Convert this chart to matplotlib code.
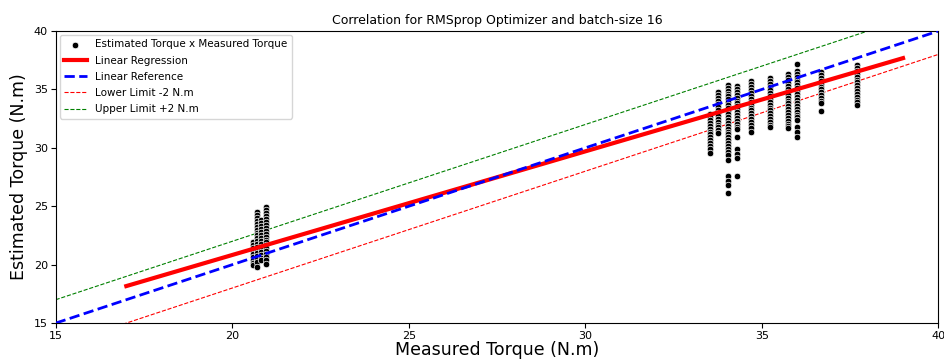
import numpy as np
import matplotlib.pyplot as plt

# measured torque of each group of samples (N.m)
measured_cols = [20.58, 20.69, 20.82, 20.95,
                 33.52, 33.77, 34.04, 34.29, 34.70, 35.22, 35.73, 36.00, 36.67, 37.69]

# estimated torque for each measured value (N.m)
estimated_cols = [
    [21.9, 21.65, 21.4, 21.15, 20.9, 20.65, 20.4, 20.15, 20.0],
    [24.5, 24.25, 24.0, 23.75, 23.5, 23.25, 23.0, 22.75, 22.5, 22.25, 22.0, 21.75,
     21.5, 21.25, 21.0, 20.75, 20.5, 20.25, 19.8],
    [23.8, 23.55, 23.3, 23.05, 22.8, 22.55, 22.3, 22.05, 21.8, 21.55, 21.3, 21.05,
     20.8, 20.6, 20.4],
    [24.9, 24.65, 24.4, 24.15, 23.9, 23.65, 23.4, 23.15, 22.9, 22.65, 22.4, 22.15,
     21.9, 21.65, 21.4, 21.15, 20.9, 20.65, 20.4, 20.1],
    [32.9, 32.65, 32.4, 32.15, 31.9, 31.65, 31.4, 31.15, 30.9, 30.65, 30.4, 30.15,
     29.9, 29.6],
    [34.75, 34.5, 34.25, 34.0, 33.75, 33.5, 33.25, 33.0, 32.75, 32.5, 32.25, 32.0,
     31.75, 31.5, 31.3],
    [35.4, 35.15, 34.9, 34.65, 34.4, 34.15, 33.9, 33.65, 33.4, 33.15, 32.9, 32.65,
     32.4, 32.15, 31.9, 31.65, 31.4, 31.15, 30.9, 30.65, 30.4, 30.15, 29.9, 29.65,
     29.4, 29.0, 27.6, 27.2, 26.8, 26.1],
    [35.3, 35.05, 34.8, 34.55, 34.3, 34.05, 33.8, 33.55, 33.3, 33.05, 32.8, 32.55,
     32.3, 32.05, 31.8, 31.6, 30.95, 29.9, 29.5, 29.1, 27.6],
    [35.7, 35.45, 35.2, 34.95, 34.7, 34.45, 34.2, 33.95, 33.7, 33.45, 33.2, 32.95,
     32.7, 32.45, 32.2, 31.95, 31.7, 31.4],
    [35.95, 35.7, 35.45, 35.2, 34.95, 34.7, 34.45, 34.2, 33.95, 33.7, 33.45, 33.2,
     32.95, 32.7, 32.45, 32.2, 31.95, 31.8],
    [36.3, 36.05, 35.8, 35.55, 35.3, 35.05, 34.8, 34.55, 34.3, 34.05, 33.8, 33.55,
     33.3, 33.05, 32.8, 32.55, 32.3, 32.05, 31.85, 31.7],
    [37.2, 36.6, 36.35, 36.1, 35.85, 35.6, 35.35, 35.1, 34.85, 34.6, 34.35, 34.1,
     33.85, 33.6, 33.35, 33.1, 32.85, 32.6, 32.4, 31.8, 31.4, 30.95],
    [36.5, 36.25, 36.0, 35.75, 35.5, 35.25, 35.0, 34.75, 34.5, 34.25, 34.0, 33.8, 33.15],
    [37.1, 36.85, 36.6, 36.35, 36.1, 35.85, 35.6, 35.35, 35.1, 34.85, 34.6, 34.35,
     34.1, 33.9, 33.7],
]

# regression line
reg_slope = 0.887
reg_intercept = 3.09
reg_range = [17, 39]

ref_range = [15, 40]
tolerance = 2.0

measured = np.concatenate([[x] * len(ys) for x, ys in zip(measured_cols, estimated_cols)])
estimated = np.concatenate(estimated_cols)

fig, ax = plt.subplots(figsize=(9.44, 3.61), dpi=100)
fig.subplots_adjust(left=0.059, right=0.994, top=0.914, bottom=0.105)

ax.scatter(measured, estimated, s=22, c='black', edgecolors='white', linewidths=0.5,
           label='Estimated Torque x Measured Torque', zorder=3)

xr = np.array(reg_range)
ax.plot(xr, reg_slope * xr + reg_intercept, color='red', linewidth=3, label='Linear Regression', zorder=4)

xref = np.array(ref_range)
ax.plot(xref, xref, color='blue', linestyle='--', linewidth=2, label='Linear Reference', zorder=4)
ax.plot(xref, xref - tolerance, color='red', linestyle='--', linewidth=0.8, label='Lower Limit -2 N.m')
ax.plot(xref, xref + tolerance, color='green', linestyle='--', linewidth=0.8, label='Upper Limit +2 N.m')

ax.set_xlim(15, 40)
ax.set_ylim(15, 40)
ax.set_xticks([15, 20, 25, 30, 35, 40])
ax.set_yticks([15, 20, 25, 30, 35, 40])
ax.tick_params(labelsize=8, pad=2)

ax.set_title("Correlation for RMSprop Optimizer and batch-size 16", fontsize=9, pad=5)
ax.set_xlabel("Measured Torque (N.m)", fontsize=12.5, labelpad=0)
ax.set_ylabel("Estimated Torque (N.m)", fontsize=12.5, labelpad=4)
ax.legend(loc='upper left', fontsize=7.5, labelspacing=0.6, handlelength=2.2,
          borderaxespad=0.4)

plt.savefig("out.png", dpi=100)
